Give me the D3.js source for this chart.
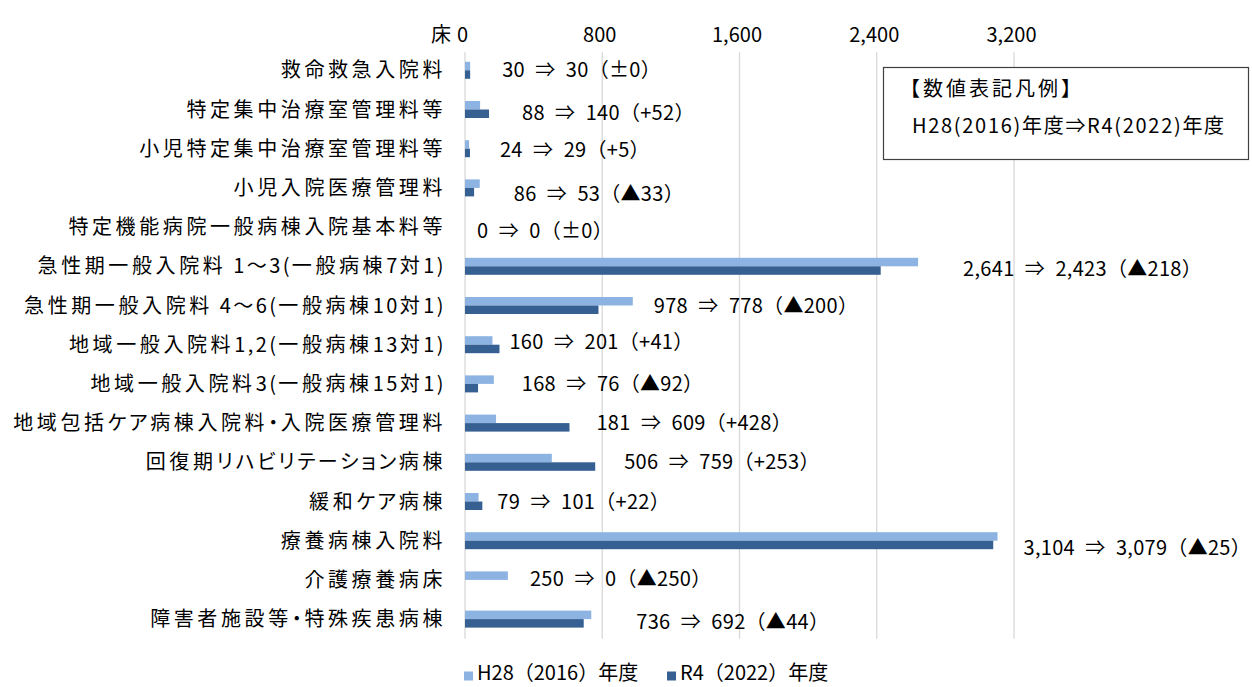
<!DOCTYPE html>
<html><head><meta charset="utf-8">
<script src="https://cdn.jsdelivr.net/npm/d3@7"></script>
<style>
body{margin:0;background:#fff;}
svg{display:block;font-family:"Noto Sans CJK JP","Noto Sans",sans-serif;}
</style></head>
<body><svg id="c" width="1252" height="687"></svg>
<script>
const categories = ["救命救急入院料","特定集中治療室管理料等","小児特定集中治療室管理料等","小児入院医療管理料","特定機能病院一般病棟入院基本料等","急性期一般入院料 1～3(一般病棟7対1)","急性期一般入院料 4～6(一般病棟10対1)","地域一般入院料1,2(一般病棟13対1)","地域一般入院料3(一般病棟15対1)","地域包括ケア病棟入院料・入院医療管理料","回復期リハビリテーション病棟","緩和ケア病棟","療養病棟入院料","介護療養病床","障害者施設等・特殊疾患病棟"];
const seriesNames = ["H28（2016）年度","R4（2022）年度"];
const h28 = [30,88,24,86,0,2641,978,160,168,181,506,79,3104,250,736];
const r4  = [30,140,29,53,0,2423,778,201,76,609,759,101,3079,0,692];
const xTicks = [0,800,1600,2400,3200];
const unitLabel = "床";
const noteTitle = "【数値表記凡例】";
const noteText = "H28(2016)年度⇒R4(2022)年度";
// label layout nudges (px) relative to the longer bar's end
const labelDx = [32,33,30,34,12,45,21,10,28,27,29,15,26,22,45];
const labelDy = [0,3,1,6,4,3,0,-3,0,0,0,0,7,-1,3];

const colors = ["#8DB3E2","#366092"];
const svg = d3.select("#c");
const x = d3.scaleLinear().domain([0,3200]).range([465,1014]);
const y = d3.scaleBand().domain(categories).range([50.7,638.7]).paddingInner(0).paddingOuter(0);
const sub = d3.scaleBand().domain([0,1]).range([-8.5,8.5]);

// gridlines
svg.append("g").selectAll("line").data(xTicks).join("line")
  .attr("x1",d=>x(d)).attr("x2",d=>x(d)).attr("y1",52).attr("y2",638.7)
  .attr("stroke","#D9D9D9").attr("stroke-width",1.3);

// top axis labels
const ax = svg.append("g").attr("transform","translate(-3,0)")
  .call(d3.axisTop(x).tickValues(xTicks).tickFormat(d3.format(",")).tickSize(0));
ax.select(".domain").remove();
ax.selectAll("text").attr("y",35).attr("dy","0.35em").attr("font-size",20)
  .attr("font-family",'"Noto Sans CJK JP",sans-serif').attr("fill","#000");
svg.append("text").attr("x",441).attr("y",35).attr("dy","0.35em").attr("text-anchor","middle")
  .attr("font-size",20).text(unitLabel);

// bars
const rows = categories.map((c,i)=>({c,i,vals:[h28[i],r4[i]]}));
const g = svg.append("g").selectAll("g").data(rows).join("g")
  .attr("transform",d=>`translate(0,${y(d.c)+y.bandwidth()/2})`);
g.selectAll("rect").data(d=>d.vals.map((v,k)=>({v,k}))).join("rect")
  .attr("x",x(0)).attr("y",d=>sub(d.k)).attr("height",sub.bandwidth())
  .attr("width",d=>x(d.v)-x(0)).attr("fill",d=>colors[d.k]);

// category labels, split into runs so kanji get wider tracking
function runs(s){
  const out=[]; let cur=null;
  for(const ch of s){
    let t = /[\u4E00-\u9FFF]/.test(ch)?"k":(/[\u30A0-\u30FF\u3040-\u309F\u30FB]/.test(ch)?"n":"o");
    if(!cur||cur.t!==t){cur={t,s:""};out.push(cur);}
    cur.s+=ch;
  }
  return out;
}
const spacing={k:"3.6px",n:"2.6px",o:"2.4px"};
svg.append("g").selectAll("text").data(categories).join("text")
  .attr("x",446).attr("y",d=>y(d)+y.bandwidth()/2).attr("dy","0.35em")
  .attr("text-anchor","end").attr("font-size",20).attr("fill","#000")
  .each(function(d){
    d3.select(this).selectAll("tspan").data(runs(d)).join("tspan")
      .attr("letter-spacing",r=>spacing[r.t])
      .style("font-feature-settings",r=>r.t==="n"?'"palt"':null)
      .text(r=>r.s);
  });

// value labels
const fmt = d3.format(",");
function diffStr(a,b){const d=b-a; if(d===0) return "±0"; return d>0?"+"+fmt(d):"▲"+fmt(-d);}
svg.append("g").selectAll("text").data(rows).join("text")
  .attr("x",d=>x(Math.max(d.vals[0],d.vals[1]))+labelDx[d.i])
  .attr("y",d=>y(d.c)+y.bandwidth()/2+labelDy[d.i]).attr("dy","0.35em")
  .attr("font-size",20).attr("letter-spacing","0.3px").attr("fill","#000")
  .text(d=>`${fmt(d.vals[0])}\u2002⇒\u2002${fmt(d.vals[1])}（${diffStr(d.vals[0],d.vals[1])}）`);

// note box
svg.append("rect").attr("x",883.5).attr("y",67.5).attr("width",365).attr("height",92)
  .attr("fill","#fff").attr("stroke","#404040").attr("stroke-width",1.2);
svg.append("text").attr("x",900).attr("y",89).attr("dy","0.35em").attr("font-size",20)
  .attr("letter-spacing","3px").text(noteTitle);
svg.append("text").attr("x",912).attr("y",126).attr("dy","0.35em").attr("font-size",20)
  .attr("letter-spacing","1.7px").text(noteText);

// legend
const leg = svg.append("g").selectAll("g").data(seriesNames).join("g")
  .attr("transform",(d,i)=>`translate(${i===0?464:667},673)`);
leg.append("rect").attr("x",0).attr("y",-1.5).attr("width",9).attr("height",9).attr("fill",(d,i)=>colors[i]);
leg.append("text").attr("x",13).attr("y",0).attr("dy","0.35em").attr("font-size",20).text(d=>d);
</script></body></html>
